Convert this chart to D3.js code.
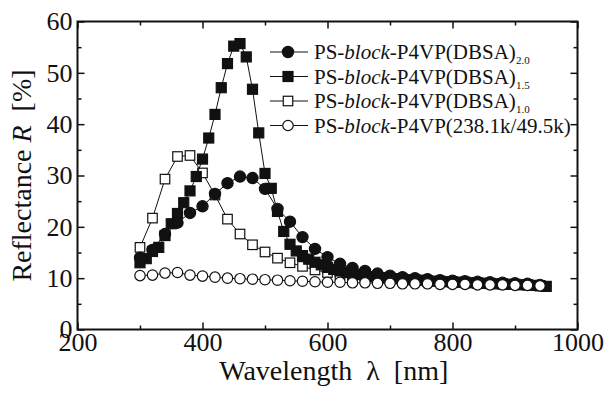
<!DOCTYPE html>
<meta charset="utf-8">
<script src="https://d3js.org/d3.v7.min.js"></script>
<style>
  body { margin: 0; background: #fff; }
  text { font-family: "Liberation Serif", "DejaVu Serif", serif; fill: #111; white-space: pre; }
</style>
<div id="chart"></div>
<script>
// Wavelengths (nm)
var wl10 = [300, 310, 320, 330, 340, 350, 360, 370, 380, 390, 400, 410, 420, 430, 440, 450, 460, 470, 480, 490,
            500, 510, 520, 530, 540, 550, 560, 570, 580, 590, 600, 610, 620, 630, 640, 650, 660, 670, 680, 690,
            700, 710, 720, 730, 740, 750, 760, 770, 780, 790, 800, 810, 820, 830, 840, 850, 860, 870, 880, 890,
            900, 910, 920, 930, 940, 950];
var wl20 = [300, 320, 340, 360, 380, 400, 420, 440, 460, 480, 500, 520, 540, 560, 580, 600, 620, 640, 660, 680,
            700, 720, 740, 760, 780, 800, 820, 840, 860, 880, 900, 920, 940];

// Reflectance R [%]
var dbsa15 = [13.0, 13.8, 15.2, 16.0, 18.3, 20.6, 22.6, 24.7, 27.0, 29.8, 33.2, 37.3, 41.9, 47.1, 51.8, 55.2, 55.7, 53.1, 46.8, 38.3,
              30.4, 27.5, 23.0, 19.1, 16.6, 15.3, 14.4, 13.7, 13.1, 12.6, 12.1, 11.7, 11.4, 11.1, 10.9, 10.7, 10.5, 10.3, 10.2, 10.1,
              10.0, 9.9, 9.8, 9.7, 9.6, 9.6, 9.5, 9.4, 9.4, 9.3, 9.3, 9.2, 9.2, 9.1, 9.1, 9.0, 9.0, 8.9, 8.9, 8.8,
              8.8, 8.7, 8.7, 8.6, 8.5, 8.4];
var dbsa20 = [14.0, 15.5, 18.6, 20.8, 22.7, 24.0, 26.4, 28.5, 29.8, 29.5, 27.4, 23.5, 21.0, 18.0, 15.7, 14.1, 12.8, 12.0, 11.4, 10.9,
              10.5, 10.2, 10.0, 9.8, 9.6, 9.5, 9.4, 9.3, 9.2, 9.1, 9.0, 8.9, 8.7];
var dbsa10 = [16.0, 21.7, 29.3, 33.7, 33.9, 30.5, 26.2, 21.5, 18.6, 16.5, 15.1, 13.9, 13.0, 12.3, 11.6, 11.1, 10.7, 10.4, 10.1, 9.9,
              9.7, 9.6, 9.5, 9.4, 9.3, 9.2, 9.1, 9.0, 8.9, 8.9, 8.8, 8.7, 8.6];
var neat = [10.5, 10.6, 11.0, 11.1, 10.6, 10.4, 10.2, 10.0, 9.9, 9.8, 9.7, 9.6, 9.5, 9.4, 9.3, 9.2, 9.2, 9.1, 9.1, 9.0,
            9.0, 8.9, 8.9, 8.9, 8.8, 8.8, 8.8, 8.7, 8.7, 8.7, 8.6, 8.6, 8.5];

var xTicks = [200, 400, 600, 800, 1000];
var xMinor = [300, 500, 700, 900];
var yTicks = [0, 10, 20, 30, 40, 50, 60];
var yMinor = [5, 15, 25, 35, 45, 55];

var W = 607, H = 396;
var margin = {top: 21.5, right: 29.5, bottom: 66.5, left: 77.5},
    width = W - margin.left - margin.right,
    height = H - margin.top - margin.bottom;

var svg = d3.select("#chart").append("svg")
    .attr("width", W).attr("height", H)
  .append("g")
    .attr("transform", "translate(" + margin.left + "," + margin.top + ")");

var x = d3.scaleLinear().domain([200, 1000]).range([0, width]);
var y = d3.scaleLinear().domain([0, 60]).range([height, 0]);

// axes with inward ticks on all four sides
function styleAxis(g) {
  g.select(".domain").remove();
  g.selectAll(".tick line").attr("stroke", "#111").attr("stroke-width", 1.5);
  g.selectAll(".tick text").style("font-size", "26px").attr("fill", "#111");
}
svg.append("g").attr("transform", "translate(0," + height + ")")
  .call(d3.axisBottom(x).tickValues(xTicks).tickSizeInner(-7).tickSizeOuter(0).tickPadding(3).tickFormat(d3.format("d")))
  .call(styleAxis);
svg.append("g").attr("transform", "translate(0," + height + ")")
  .call(d3.axisBottom(x).tickValues(xMinor).tickSize(-4).tickFormat(""))
  .call(styleAxis);
svg.append("g")
  .call(d3.axisTop(x).tickValues(xTicks).tickSize(-7).tickFormat(""))
  .call(styleAxis);
svg.append("g")
  .call(d3.axisTop(x).tickValues(xMinor).tickSize(-4).tickFormat(""))
  .call(styleAxis);
svg.append("g")
  .call(d3.axisLeft(y).tickValues(yTicks).tickSizeInner(-7).tickSizeOuter(0).tickPadding(5))
  .call(styleAxis);
svg.append("g")
  .call(d3.axisLeft(y).tickValues(yMinor).tickSize(-4).tickFormat(""))
  .call(styleAxis);
svg.append("g").attr("transform", "translate(" + width + ",0)")
  .call(d3.axisRight(y).tickValues(yTicks).tickSize(-7).tickFormat(""))
  .call(styleAxis);
svg.append("g").attr("transform", "translate(" + width + ",0)")
  .call(d3.axisRight(y).tickValues(yMinor).tickSize(-4).tickFormat(""))
  .call(styleAxis);

// frame
svg.append("rect")
  .attr("width", width).attr("height", height)
  .attr("fill", "none").attr("stroke", "#111").attr("stroke-width", 2);

// axis titles
svg.append("text")
  .attr("x", x(610)).attr("y", height + 50)
  .attr("text-anchor", "middle")
  .attr("xml:space", "preserve")
  .style("font-size", "28px")
  .text("Wavelength  \u03bb  [nm]");

var yl = svg.append("text")
  .attr("transform", "translate(" + (-46.5) + "," + y(30) + ") rotate(-90)")
  .attr("text-anchor", "middle")
  .attr("xml:space", "preserve")
  .style("font-size", "28px");
yl.append("tspan").text("Reflectance ");
yl.append("tspan").style("font-style", "italic").text("R");
yl.append("tspan").text("  [%]");

// series
var series = [
  {name: "neat", xs: wl20, ys: neat, shape: "circle", fill: "#fff"},
  {name: "1.0", xs: wl20, ys: dbsa10, shape: "square", fill: "#fff"},
  {name: "1.5", xs: wl10, ys: dbsa15, shape: "square", fill: "#111"},
  {name: "2.0", xs: wl20, ys: dbsa20, shape: "circle", fill: "#111"}
];
var drawOrder = ["1.0", "1.5", "2.0", "neat"];

var line = d3.line().x(function(d) { return x(d[0]); }).y(function(d) { return y(d[1]); });

function marker(sel, s) {
  if (s.shape === "circle") {
    sel.append("circle").attr("r", s.fill === "#fff" ? 5.2 : 5.6)
      .attr("fill", s.fill).attr("stroke", "#111").attr("stroke-width", 1.2);
  } else {
    var a = s.fill === "#fff" ? 9.5 : 10;
    sel.append("rect").attr("x", -a / 2).attr("y", -a / 2).attr("width", a).attr("height", a)
      .attr("fill", s.fill).attr("stroke", "#111").attr("stroke-width", 1.2);
  }
}

drawOrder.forEach(function(key) {
  var s = series.filter(function(d) { return d.name === key; })[0];
  var pts = s.xs.map(function(v, i) { return [v, s.ys[i]]; });
  var g = svg.append("g");
  g.append("path").datum(pts).attr("d", line)
    .attr("fill", "none").attr("stroke", "#111").attr("stroke-width", 1);
  g.selectAll("g.pt").data(pts).enter().append("g")
    .attr("class", "pt")
    .attr("transform", function(d) { return "translate(" + x(d[0]) + "," + y(d[1]) + ")"; })
    .each(function() { marker(d3.select(this), s); });
});

// legend
var legendRows = [
  {key: "2.0", label: "PS-", it: "block", rest: "-P4VP(DBSA)", sub: "2.0"},
  {key: "1.5", label: "PS-", it: "block", rest: "-P4VP(DBSA)", sub: "1.5"},
  {key: "1.0", label: "PS-", it: "block", rest: "-P4VP(DBSA)", sub: "1.0"},
  {key: "neat", label: "PS-", it: "block", rest: "-P4VP(238.1k/49.5k)", sub: ""}
];
var lg = svg.append("g").attr("transform", "translate(" + (270 - margin.left) + "," + (52 - margin.top) + ")");
legendRows.forEach(function(r, i) {
  var s = series.filter(function(d) { return d.name === r.key; })[0];
  var row = lg.append("g").attr("transform", "translate(0," + (i * 24.5) + ")");
  row.append("line").attr("x1", 0).attr("x2", 38).attr("y1", 0).attr("y2", 0)
    .attr("stroke", "#111").attr("stroke-width", 1);
  var m = row.append("g").attr("transform", "translate(18,0)");
  marker(m, s);
  var t = row.append("text").attr("x", 44).attr("y", 7).style("font-size", "21px");
  t.append("tspan").text(r.label);
  t.append("tspan").style("font-style", "italic").text(r.it);
  t.append("tspan").text(r.rest);
  if (r.sub) t.append("tspan").attr("dy", 5).style("font-size", "11px").text(r.sub);
});
</script>
